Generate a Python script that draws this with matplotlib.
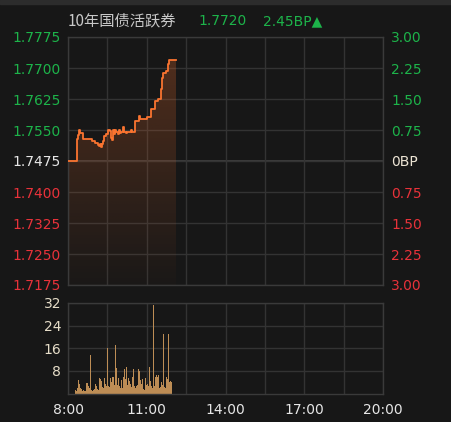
import numpy as np
import matplotlib
matplotlib.use("Agg")
import matplotlib.pyplot as plt
from matplotlib.colors import to_rgb

plt.rcParams['font.family'] = ['DejaVu Sans']

# 分钟数（从 8:00 开始）与收益率
price_min = [0, 20, 22, 25, 28, 34, 55, 62, 69, 71, 73, 75, 78, 80, 82, 87, 91, 96, 98, 101,
             103, 105, 108, 110, 114, 117, 119, 121, 126, 128, 133, 135, 144, 146, 153, 162,
             164, 181, 190, 199, 206, 213, 215, 217, 224, 229, 231, 247]
price_val = [1.7475, 1.7528, 1.7538, 1.7550, 1.7542, 1.7528, 1.7523, 1.7518, 1.7513, 1.7511,
             1.7516, 1.7508, 1.7516, 1.7523, 1.7535, 1.7540, 1.7551, 1.7548, 1.7530, 1.7526,
             1.7550, 1.7540, 1.7550, 1.7545, 1.7540, 1.7550, 1.7543, 1.7545, 1.7557, 1.7546,
             1.7543, 1.7546, 1.7550, 1.7546, 1.7572, 1.7584, 1.7576, 1.7582, 1.7600, 1.7621,
             1.7624, 1.7650, 1.7675, 1.7687, 1.7693, 1.7710, 1.7720, 1.7720]

# 成交量（每 2 分钟一根）
vol_min = list(range(16, 238, 2))
vol_val = [1.2, 1.0, 2.0, 4.8, 3.5, 3.0, 2.0, 1.5, 1.0, 1.2, 0.8, 1.0, 3.6, 3.2, 3.6, 2.5,
           2.0, 13.6, 1.2, 1.0, 1.2, 0.8, 1.5, 3.2, 2.8, 1.7, 1.2, 5.6, 2.0, 5.0, 4.5, 2.2,
           2.0, 5.6, 3.5, 2.5, 2.2, 16.2, 2.5, 2.2, 5.5, 4.0, 5.8, 6.0, 2.0, 3.0, 17.2, 9.0,
           3.0, 5.6, 2.5, 2.0, 3.0, 4.6, 2.0, 6.0, 8.5, 5.0, 9.4, 3.0, 2.0, 5.6, 4.5, 3.2,
           2.2, 6.0, 8.5, 2.5, 2.0, 1.8, 2.5, 3.0, 8.5, 8.0, 4.6, 3.5, 5.2, 5.0, 1.5, 1.2,
           5.6, 3.0, 3.2, 2.5, 9.4, 5.0, 4.5, 2.5, 2.0, 31.3, 2.5, 6.0, 5.5, 6.5, 6.0, 6.5,
           2.0, 2.2, 4.0, 3.0, 21.0, 2.0, 2.2, 1.8, 6.0, 5.0, 21.0, 4.0, 1.5, 4.5, 4.0]

prev_close = 1.7475
left_ticks = [1.7775, 1.7700, 1.7625, 1.7550, 1.7475, 1.7400, 1.7325, 1.7250, 1.7175]
right_labels = ['3.00', '2.25', '1.50', '0.75', '0BP', '0.75', '1.50', '2.25', '3.00']
vol_ticks = [8, 16, 24, 32]
time_ticks = [0, 180, 360, 540, 720]
time_labels = ['8:00', '11:00', '14:00', '17:00', '20:00']

BG = '#171717'
GRID = '#333333'
GREEN = '#1db34a'
RED = '#e8323a'
WHITE = '#e6e6e6'
LINE = '#fa7430'

W, H = 451, 422
fig = plt.figure(figsize=(W / 100, H / 100), dpi=100, facecolor=BG)

def box(l, t, r, b):
    return [l / W, 1 - b / H, (r - l) / W, (b - t) / H]

fig.patches.append(plt.Rectangle((0, 1 - 4 / H), 1, 4 / H, transform=fig.transFigure,
                                 color='#2c2c2c', zorder=0))

ax = fig.add_axes(box(68, 37, 383, 285))
axv = fig.add_axes(box(68, 303, 383, 393.5))

for a in (ax, axv):
    a.set_facecolor(BG)
    a.set_xlim(0, 720)
    a.set_xticks(np.arange(0, 721, 90))
    for s in a.spines.values():
        s.set_color('#3a3a3a')
        s.set_linewidth(1)
    a.grid(True, color=GRID, linewidth=1)
    a.set_axisbelow(True)
    a.tick_params(length=0, labelsize=10)

# 价格走势
ax.set_ylim(1.7175, 1.7775)
ax.set_yticks(left_ticks)
ax.set_yticklabels([f'{v:.4f}' for v in left_ticks])
ax.tick_params(axis='y', pad=5)
for lab, v in zip(ax.get_yticklabels(), left_ticks):
    lab.set_color(GREEN if v > prev_close + 1e-9 else (RED if v < prev_close - 1e-9 else WHITE))
ax.set_xticklabels([])
ax.axhline(prev_close, color='#444444', linewidth=1.2, zorder=0.5)

poly = ax.fill_between(price_min, price_val, 1.7175, step='post', color='none', linewidth=0)
c = np.array(to_rgb('#d2622a'))
grad = np.zeros((256, 2, 4))
grad[:, :, :3] = c
grad[:, :, 3] = np.linspace(0.33, 0.02, 256)[:, None]
im = ax.imshow(grad, extent=[0, 720, 1.7175, 1.7775], aspect='auto', origin='upper', zorder=2)
im.set_clip_path(poly.get_paths()[0], transform=ax.transData)
ax.plot(price_min, price_val, drawstyle='steps-post', color=LINE, linewidth=1.3, zorder=3)
ax.set_ylim(1.7175, 1.7775)
ax.set_xlim(0, 720)

axr = ax.twinx()
axr.set_ylim(1.7175, 1.7775)
axr.set_yticks(left_ticks)
axr.set_yticklabels(right_labels)
axr.tick_params(length=0, labelsize=10, pad=6)
for s in axr.spines.values():
    s.set_visible(False)
for lab, v in zip(axr.get_yticklabels(), left_ticks):
    lab.set_color(GREEN if v > prev_close + 1e-9 else (RED if v < prev_close - 1e-9 else '#ece4d4'))

# 成交量
axv.bar(vol_min, vol_val, width=2.5, align='edge', color='#bd8d55', linewidth=0, zorder=2)
axv.set_ylim(0, 32)
axv.set_yticks(vol_ticks)
axv.set_yticklabels([str(v) for v in vol_ticks], color='#e6ddc8')
axv.tick_params(axis='y', pad=5)
axv.set_xticks(time_ticks, minor=False)
axv.set_xticklabels(time_labels, color=WHITE)
axv.tick_params(axis='x', pad=7)
axv.set_xticks(np.arange(0, 721, 90), minor=True)
axv.grid(True, which='minor', axis='x', color=GRID, linewidth=1)
axv.grid(True, which='major', color=GRID, linewidth=1)
axv.tick_params(which='minor', length=0)

# 标题
fig.text(68 / W, 1 - 21 / H, '10年国债活跃券', color='#c8c8c8', fontsize=11,
         family=['Noto Sans CJK SC', 'DejaVu Sans'], va='center', ha='left')
fig.text(198 / W, 1 - 21 / H, '1.7720', color=GREEN, fontsize=10, va='center', ha='left')
fig.text(263 / W, 1 - 21 / H, '2.45BP▲', color=GREEN, fontsize=10, va='center', ha='left')

fig.savefig('out.png', dpi=100, facecolor=BG)
